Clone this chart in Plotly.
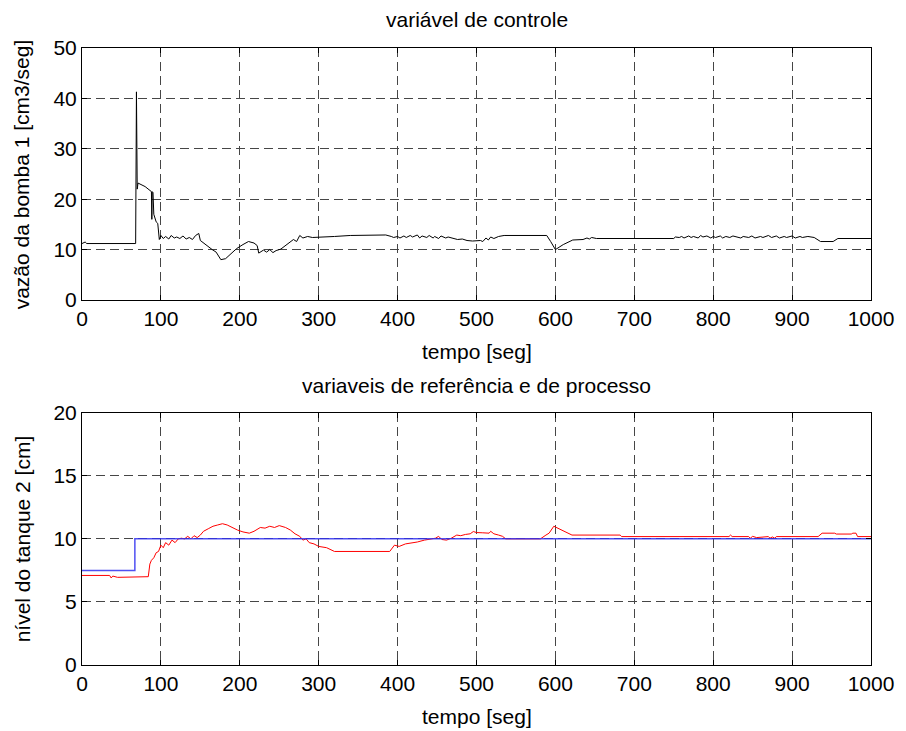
import plotly.graph_objects as go

# ---- data: control variable (top) ----
t_ctrl = [0, 4, 6, 68, 69, 70, 71, 80, 88, 88.5, 89, 90, 91, 92, 94, 96, 98, 100, 103, 106, 110,
          113, 117, 120, 124, 128, 132, 136, 140, 144, 148, 150, 155, 160, 165, 170, 176, 182, 188,
          196, 204, 211, 218, 222, 224, 230, 234, 238, 242, 246, 252, 258, 264, 268, 272, 276, 280,
          286, 292, 300, 320, 340, 360, 370, 385, 392, 395, 400, 403, 408, 411, 416, 419, 425, 428,
          431, 437, 440, 445, 447, 452, 455, 461, 464, 470, 476, 482, 488, 495, 505, 508, 512, 515,
          518, 522, 528, 535, 589, 594, 600, 610, 622, 635, 640, 643, 646, 652, 750, 752, 757, 760,
          763, 769, 772, 775, 781, 784, 787, 792, 797, 800, 803, 809, 812, 816, 821, 825, 829, 835,
          838, 845, 849, 853, 860, 863, 870, 874, 880, 884, 890, 893, 900, 904, 910, 913, 920, 928,
          936, 952, 958, 1000]
u_ctrl = [11.2, 11.5, 11.2, 11.2, 41.3, 22.0, 23.2, 22.5, 21.5, 16.0, 21.5, 21.3, 17.0, 16.5, 15.5,
          15.2, 12.0, 12.8, 12.2, 12.6, 12.1, 12.8, 12.3, 12.5, 12.2, 12.7, 12.1, 12.4, 12.0, 12.8,
          13.2, 11.8, 11.2, 10.5, 10.0, 9.5, 8.0, 8.2, 9.0, 10.2, 11.0, 11.6, 11.3, 10.8, 9.3, 9.9,
          9.5, 10.0, 9.4, 9.8, 10.1, 10.8, 11.6, 12.0, 11.6, 12.8, 12.3, 12.6, 12.4, 12.5, 12.6, 12.8,
          12.9, 12.9, 12.9, 12.6, 12.4, 12.6, 12.3, 12.7, 12.4, 12.8, 12.5, 12.9, 12.3, 12.7, 12.4,
          12.8, 12.3, 12.6, 12.2, 12.7, 12.3, 12.5, 12.3, 12.0, 12.1, 11.8, 11.7, 11.8, 11.6, 12.3,
          11.9, 12.5, 12.2, 12.6, 12.8, 12.8, 11.6, 10.0, 11.0, 11.9, 12.0, 12.3, 12.1, 12.4, 12.2,
          12.2, 12.5, 12.4, 12.6, 12.3, 12.7, 12.4, 12.6, 12.3, 12.8, 12.5, 12.7, 12.3, 12.6, 12.4,
          12.7, 12.3, 12.6, 12.4, 12.7, 12.5, 12.3, 12.6, 12.4, 12.7, 12.3, 12.6, 12.4, 12.8, 12.4,
          12.7, 12.3, 12.6, 12.4, 12.7, 12.3, 12.6, 12.4, 12.6, 12.4, 11.6, 11.6, 12.2, 12.2]

# ---- data: reference (blue) ----
t_ref = [0, 67, 67, 1000]
r_ref = [7.5, 7.5, 10.0, 10.0]

# ---- data: process variable (red) ----
t_proc = [0, 35, 37, 39, 45, 70, 72, 84, 86, 88, 91, 94, 97, 100, 103, 106, 110, 114, 118, 122, 126,
          130, 134, 138, 142, 146, 150, 154, 160, 166, 172, 178, 184, 190, 197, 204, 212, 218, 226,
          232, 238, 244, 250, 258, 264, 270, 276, 280, 284, 288, 294, 300, 310, 320, 390, 396, 402,
          410, 417, 425, 434, 440, 448, 452, 456, 462, 468, 475, 480, 486, 492, 496, 500, 508, 516,
          518, 522, 528, 533, 537, 581, 588, 592, 598, 604, 608, 612, 616, 621, 682, 684, 820, 822,
          824, 845, 847, 850, 855, 870, 872, 875, 878, 880, 933, 938, 954, 956, 975, 977, 981, 983,
          1000]
y_proc = [7.1, 7.1, 6.9, 7.05, 6.95, 6.95, 7.0, 7.0, 8.0, 8.3, 8.5, 8.9, 9.0, 9.5, 9.3, 9.7, 9.5,
          9.9, 9.7, 10.0, 10.05, 10.0, 10.2, 10.0, 10.25, 10.1, 10.3, 10.6, 10.8, 11.0, 11.1, 11.2,
          11.1, 10.9, 10.7, 10.55, 10.45, 10.6, 10.9, 10.85, 11.0, 10.9, 11.05, 10.9, 10.7, 10.4,
          10.2, 9.9, 10.0, 9.7, 9.6, 9.4, 9.3, 9.0, 9.0, 9.5, 9.4, 9.6, 9.65, 9.75, 9.9, 9.95, 10.05,
          10.2, 9.95, 9.9, 10.05, 10.3, 10.25, 10.35, 10.4, 10.58, 10.5, 10.48, 10.45, 10.6, 10.4,
          10.3, 10.2, 10.0, 10.0, 10.3, 10.45, 11.0, 10.8, 10.7, 10.6, 10.45, 10.3, 10.3, 10.18,
          10.18, 10.3, 10.18, 10.18, 10.05, 10.2, 10.1, 10.18, 10.05, 10.15, 10.05, 10.18, 10.18,
          10.45, 10.45, 10.38, 10.38, 10.45, 10.45, 10.18, 10.18]

x_ticks = [0, 100, 200, 300, 400, 500, 600, 700, 800, 900, 1000]
y1_ticks = [0, 10, 20, 30, 40, 50]
y2_ticks = [0, 5, 10, 15, 20]

title_top = "variável de controle"
title_bot = "variaveis de referência e de processo"
xlabel = "tempo [seg]"
ylabel_top = "vazão da bomba 1 [cm3/seg]"
ylabel_bot = "nível do tanque 2 [cm]"

FONT = "Liberation Sans, Arial, sans-serif"
FS = 21

fig = go.Figure()
fig.add_trace(go.Scatter(x=t_ctrl, y=u_ctrl, mode="lines", line=dict(color="black", width=1),
                         xaxis="x", yaxis="y", showlegend=False))
fig.add_trace(go.Scatter(x=t_proc, y=y_proc, mode="lines", line=dict(color="red", width=1),
                         xaxis="x2", yaxis="y2", showlegend=False))
fig.add_trace(go.Scatter(x=t_ref, y=r_ref, mode="lines", line=dict(color="rgb(50,50,240)", width=1.5),
                         opacity=0.85, xaxis="x2", yaxis="y2", showlegend=False))

ax_common = dict(showline=True, linecolor="black", linewidth=1, mirror="ticks", ticks="inside",
                 ticklen=5, tickcolor="black", showgrid=True, gridcolor="rgb(70,70,70)",
                 griddash="9px,5px", gridwidth=1, zeroline=False,
                 tickfont=dict(family=FONT, size=FS, color="black"))

fig.update_layout(
    width=906, height=731,
    margin=dict(l=82, r=29, t=48, b=66),
    paper_bgcolor="white", plot_bgcolor="white",
    font=dict(family=FONT, size=FS, color="black"),
    xaxis=dict(domain=[0, 1], anchor="y", range=[0, 1000], tickvals=x_ticks, **ax_common),
    yaxis=dict(domain=[0.5916, 1], anchor="x", range=[0, 50], tickvals=y1_ticks, **ax_common),
    xaxis2=dict(domain=[0, 1], anchor="y2", range=[0, 1000], tickvals=x_ticks, **ax_common),
    yaxis2=dict(domain=[0, 0.4089], anchor="x2", range=[0, 20], tickvals=y2_ticks, **ax_common),
)

def ann(text, x, y, angle=0):
    fig.add_annotation(text=text, x=x, y=y, xref="paper", yref="paper", showarrow=False,
                       xanchor="center", yanchor="middle", textangle=angle,
                       font=dict(family=FONT, size=FS, color="black"))

ann(title_top, 0.5, 1.0454)
ann(xlabel, 0.5, 0.5073)
ann(title_bot, 0.5, 0.4522)
ann(xlabel, 0.5, -0.0827)
ann(ylabel_top, -0.0756, 0.7958, -90)
ann(ylabel_bot, -0.0756, 0.2042, -90)

fig.write_html("out.html", config={"displayModeBar": False},
               post_script="document.body.style.margin='0px';document.body.style.padding='0px';")
